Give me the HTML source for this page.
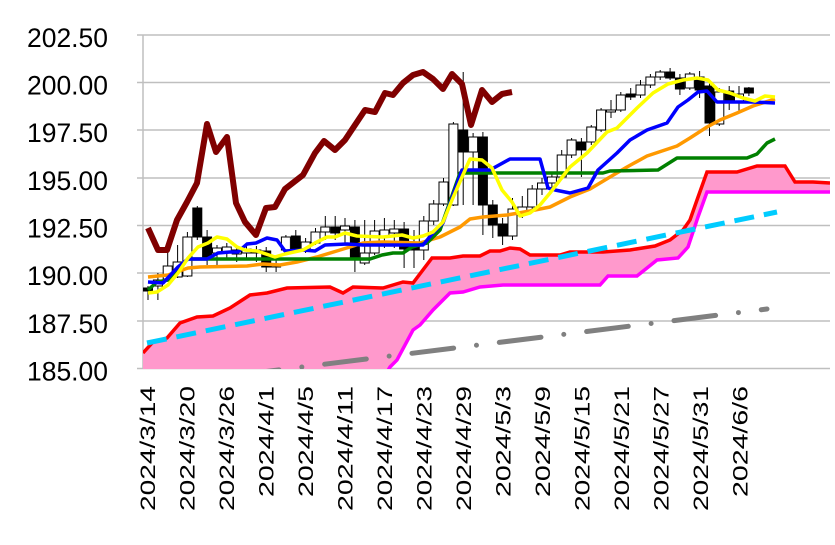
<!DOCTYPE html>
<html><head><meta charset="utf-8"><style>
html,body{margin:0;padding:0;background:#fff;}
svg{display:block;}
text{font-family:"Liberation Sans",sans-serif;fill:#000;}
</style></head><body>
<svg width="835" height="545" viewBox="0 0 835 545" xmlns="http://www.w3.org/2000/svg">
<defs><clipPath id="pc"><rect x="143" y="25" width="687" height="344"/></clipPath></defs>
<g stroke="#bfbfbf" stroke-width="1.5">
<line x1="137" y1="35" x2="830" y2="35"/>
<line x1="137" y1="82.5" x2="830" y2="82.5"/>
<line x1="137" y1="130" x2="830" y2="130"/>
<line x1="137" y1="178" x2="830" y2="178"/>
<line x1="137" y1="225.5" x2="830" y2="225.5"/>
<line x1="137" y1="273" x2="830" y2="273"/>
<line x1="137" y1="321" x2="830" y2="321"/>
<line x1="137" y1="368.5" x2="830" y2="368.5"/>
<line x1="143" y1="35" x2="143" y2="369"/>
</g>
<g font-size="27" text-anchor="end">
<text x="108" y="47" textLength="81" lengthAdjust="spacingAndGlyphs">202.50</text>
<text x="108" y="94.5" textLength="81" lengthAdjust="spacingAndGlyphs">200.00</text>
<text x="108" y="142" textLength="81" lengthAdjust="spacingAndGlyphs">197.50</text>
<text x="108" y="190" textLength="81" lengthAdjust="spacingAndGlyphs">195.00</text>
<text x="108" y="237.5" textLength="81" lengthAdjust="spacingAndGlyphs">192.50</text>
<text x="108" y="285" textLength="81" lengthAdjust="spacingAndGlyphs">190.00</text>
<text x="108" y="333" textLength="81" lengthAdjust="spacingAndGlyphs">187.50</text>
<text x="108" y="380.5" textLength="81" lengthAdjust="spacingAndGlyphs">185.00</text>
</g>
<g font-size="21" text-anchor="end">
<text transform="translate(155,386) rotate(-90)" textLength="125" lengthAdjust="spacingAndGlyphs">2024/3/14</text>
<text transform="translate(194.5,386) rotate(-90)" textLength="125" lengthAdjust="spacingAndGlyphs">2024/3/20</text>
<text transform="translate(234,386) rotate(-90)" textLength="125" lengthAdjust="spacingAndGlyphs">2024/3/26</text>
<text transform="translate(273.5,386) rotate(-90)" textLength="111" lengthAdjust="spacingAndGlyphs">2024/4/1</text>
<text transform="translate(313,386) rotate(-90)" textLength="111" lengthAdjust="spacingAndGlyphs">2024/4/5</text>
<text transform="translate(352.5,386) rotate(-90)" textLength="125" lengthAdjust="spacingAndGlyphs">2024/4/11</text>
<text transform="translate(392,386) rotate(-90)" textLength="125" lengthAdjust="spacingAndGlyphs">2024/4/17</text>
<text transform="translate(431.5,386) rotate(-90)" textLength="125" lengthAdjust="spacingAndGlyphs">2024/4/23</text>
<text transform="translate(471,386) rotate(-90)" textLength="125" lengthAdjust="spacingAndGlyphs">2024/4/29</text>
<text transform="translate(510.5,386) rotate(-90)" textLength="111" lengthAdjust="spacingAndGlyphs">2024/5/3</text>
<text transform="translate(550,386) rotate(-90)" textLength="111" lengthAdjust="spacingAndGlyphs">2024/5/9</text>
<text transform="translate(589.5,386) rotate(-90)" textLength="125" lengthAdjust="spacingAndGlyphs">2024/5/15</text>
<text transform="translate(629,386) rotate(-90)" textLength="125" lengthAdjust="spacingAndGlyphs">2024/5/21</text>
<text transform="translate(668.5,386) rotate(-90)" textLength="125" lengthAdjust="spacingAndGlyphs">2024/5/27</text>
<text transform="translate(708,386) rotate(-90)" textLength="125" lengthAdjust="spacingAndGlyphs">2024/5/31</text>
<text transform="translate(747.5,386) rotate(-90)" textLength="111" lengthAdjust="spacingAndGlyphs">2024/6/6</text>
</g>
<g clip-path="url(#pc)">
<polygon fill="#ff99cc" points="143,353 153,342 167,338 180,323 197,317 213,316 230,308 250,295 267,293 287,288 330,287 343,293 353,287 383,288 403,282 413,283 432,258 450,258 463,256 480,256 490,251 500,251 510,248 520,249 530,255 560,255 570,252 603,252 630,250 655,246 670,240 683,230 690,220 697,200 707,172 737,172 757,166 785,166 795,182 813,182 830,183 830,192 707,192 698,217 688,247 678,258 657,260 637,276 608,276 600,285 503,285 480,287 463,292 450,293 433,310 420,325 413,330 397,360 390,367 387,372 143,372"/>
<polyline fill="none" stroke="#ff00ff" stroke-width="3.5" points="143,372 387,372 390,367 397,360 413,330 420,325 433,310 450,293 463,292 480,287 503,285 600,285 608,276 637,276 657,260 678,258 688,247 698,217 707,192 830,192"/>
<polyline fill="none" stroke="#ff0000" stroke-width="3.5" points="143,353 153,342 167,338 180,323 197,317 213,316 230,308 250,295 267,293 287,288 330,287 343,293 353,287 383,288 403,282 413,283 432,258 450,258 463,256 480,256 490,251 500,251 510,248 520,249 530,255 560,255 570,252 603,252 630,250 655,246 670,240 683,230 690,220 697,200 707,172 737,172 757,166 785,166 795,182 813,182 830,183"/>
<line x1="147" y1="343" x2="777" y2="212" stroke="#00ccff" stroke-width="5" stroke-dasharray="20 10"/>
<line x1="150" y1="386" x2="767" y2="309" stroke="#808080" stroke-width="5" stroke-linecap="round" stroke-dasharray="42 23 0 23"/>
<g stroke="#000" stroke-width="1">
<line x1="148" y1="286" x2="148" y2="300"/><rect x="143.5" y="288" width="9" height="3" fill="#000"/>
<line x1="157.9" y1="273" x2="157.9" y2="300"/><rect x="153.4" y="280" width="9" height="6" fill="#fff"/>
<line x1="167.7" y1="250" x2="167.7" y2="281"/><rect x="163.2" y="266" width="9" height="13" fill="#fff"/>
<line x1="177.6" y1="245" x2="177.6" y2="278"/><rect x="173.1" y="262" width="9" height="15" fill="#fff"/>
<line x1="187.4" y1="232" x2="187.4" y2="277"/><rect x="182.9" y="237" width="9" height="39" fill="#fff"/>
<line x1="197.3" y1="206" x2="197.3" y2="240"/><rect x="192.8" y="208" width="9" height="29" fill="#000"/>
<line x1="207.1" y1="230" x2="207.1" y2="265"/><rect x="202.6" y="237" width="9" height="20" fill="#000"/>
<line x1="217" y1="245" x2="217" y2="265"/><rect x="212.5" y="248" width="9" height="5" fill="#fff"/>
<line x1="226.8" y1="243" x2="226.8" y2="260"/><rect x="222.3" y="247" width="9" height="5" fill="#fff"/>
<line x1="236.7" y1="245" x2="236.7" y2="262"/><rect x="232.2" y="250" width="9" height="4" fill="#fff"/>
<line x1="246.5" y1="244" x2="246.5" y2="260"/><rect x="242" y="249" width="9" height="4" fill="#fff"/>
<line x1="256.4" y1="246" x2="256.4" y2="262"/><rect x="251.9" y="250" width="9" height="3" fill="#fff"/>
<line x1="266.2" y1="247" x2="266.2" y2="272"/><rect x="261.7" y="251" width="9" height="16" fill="#000"/>
<line x1="276.1" y1="258" x2="276.1" y2="272"/><rect x="271.6" y="264" width="9" height="3" fill="#fff"/>
<line x1="285.9" y1="235" x2="285.9" y2="253"/><rect x="281.4" y="237" width="9" height="13" fill="#fff"/>
<line x1="295.8" y1="230" x2="295.8" y2="252"/><rect x="291.3" y="236" width="9" height="14" fill="#000"/>
<line x1="305.6" y1="238" x2="305.6" y2="253"/><rect x="301.1" y="242" width="9" height="8" fill="#fff"/>
<line x1="315.5" y1="228" x2="315.5" y2="245"/><rect x="311" y="232" width="9" height="11" fill="#fff"/>
<line x1="325.3" y1="216" x2="325.3" y2="240"/><rect x="320.8" y="227" width="9" height="5" fill="#fff"/>
<line x1="335.2" y1="216" x2="335.2" y2="240"/><rect x="330.7" y="227" width="9" height="6" fill="#000"/>
<line x1="345" y1="218" x2="345" y2="245"/><rect x="340.5" y="226" width="9" height="4" fill="#fff"/>
<line x1="354.9" y1="220" x2="354.9" y2="272"/><rect x="350.4" y="227" width="9" height="30" fill="#000"/>
<line x1="364.7" y1="220" x2="364.7" y2="265"/><rect x="360.2" y="253" width="9" height="10" fill="#fff"/>
<line x1="374.6" y1="220" x2="374.6" y2="255"/><rect x="370.1" y="231" width="9" height="22" fill="#fff"/>
<line x1="384.4" y1="218" x2="384.4" y2="248"/><rect x="379.9" y="230" width="9" height="7" fill="#fff"/>
<line x1="394.3" y1="220" x2="394.3" y2="248"/><rect x="389.8" y="229" width="9" height="4" fill="#fff"/>
<line x1="404.1" y1="222" x2="404.1" y2="268"/><rect x="399.6" y="229" width="9" height="20" fill="#000"/>
<line x1="414" y1="230" x2="414" y2="268"/><rect x="409.5" y="247" width="9" height="3" fill="#000"/>
<line x1="423.8" y1="216" x2="423.8" y2="260"/><rect x="419.3" y="221" width="9" height="29" fill="#fff"/>
<line x1="433.7" y1="200" x2="433.7" y2="225"/><rect x="429.2" y="204" width="9" height="17" fill="#fff"/>
<line x1="443.5" y1="178" x2="443.5" y2="206"/><rect x="439" y="182" width="9" height="22" fill="#fff"/>
<line x1="453.4" y1="122" x2="453.4" y2="206"/><rect x="448.9" y="124" width="9" height="81" fill="#fff"/>
<line x1="463.2" y1="72" x2="463.2" y2="205"/><rect x="458.7" y="130" width="9" height="22" fill="#000"/>
<line x1="473.1" y1="133" x2="473.1" y2="205"/><rect x="468.6" y="137" width="9" height="15" fill="#fff"/>
<line x1="482.9" y1="132" x2="482.9" y2="235"/><rect x="478.4" y="137" width="9" height="68" fill="#000"/>
<line x1="492.8" y1="200" x2="492.8" y2="238"/><rect x="488.3" y="205" width="9" height="20" fill="#000"/>
<line x1="502.6" y1="218" x2="502.6" y2="245"/><rect x="498.1" y="224" width="9" height="12" fill="#000"/>
<line x1="512.5" y1="198" x2="512.5" y2="240"/><rect x="508" y="209" width="9" height="27" fill="#fff"/>
<line x1="522.3" y1="196" x2="522.3" y2="218"/><rect x="517.8" y="207" width="9" height="6" fill="#fff"/>
<line x1="532.2" y1="185" x2="532.2" y2="210"/><rect x="527.7" y="189" width="9" height="18" fill="#fff"/>
<line x1="542" y1="178" x2="542" y2="195"/><rect x="537.5" y="183" width="9" height="6" fill="#fff"/>
<line x1="551.9" y1="172" x2="551.9" y2="190"/><rect x="547.4" y="177" width="9" height="6" fill="#fff"/>
<line x1="561.7" y1="150" x2="561.7" y2="180"/><rect x="557.2" y="155" width="9" height="22" fill="#fff"/>
<line x1="571.6" y1="138" x2="571.6" y2="158"/><rect x="567.1" y="140" width="9" height="15" fill="#fff"/>
<line x1="581.4" y1="138" x2="581.4" y2="177"/><rect x="576.9" y="142" width="9" height="8" fill="#000"/>
<line x1="591.3" y1="125" x2="591.3" y2="145"/><rect x="586.8" y="127" width="9" height="15" fill="#fff"/>
<line x1="601.1" y1="108" x2="601.1" y2="132"/><rect x="596.6" y="110" width="9" height="20" fill="#fff"/>
<line x1="611" y1="100" x2="611" y2="118"/><rect x="606.5" y="110" width="9" height="2" fill="#fff"/>
<line x1="620.8" y1="92" x2="620.8" y2="112"/><rect x="616.3" y="95" width="9" height="15" fill="#fff"/>
<line x1="630.7" y1="88" x2="630.7" y2="100"/><rect x="626.2" y="94" width="9" height="3" fill="#000"/>
<line x1="640.5" y1="80" x2="640.5" y2="98"/><rect x="636" y="85" width="9" height="10" fill="#fff"/>
<line x1="650.4" y1="74" x2="650.4" y2="88"/><rect x="645.9" y="77" width="9" height="8" fill="#fff"/>
<line x1="660.2" y1="70" x2="660.2" y2="80"/><rect x="655.7" y="72" width="9" height="5" fill="#fff"/>
<line x1="670.1" y1="68" x2="670.1" y2="80"/><rect x="665.6" y="72" width="9" height="6" fill="#000"/>
<line x1="679.9" y1="74" x2="679.9" y2="95"/><rect x="675.4" y="78" width="9" height="11" fill="#000"/>
<line x1="689.8" y1="72" x2="689.8" y2="90"/><rect x="685.3" y="74" width="9" height="14" fill="#fff"/>
<line x1="699.6" y1="71" x2="699.6" y2="98"/><rect x="695.1" y="77" width="9" height="13" fill="#000"/>
<line x1="709.5" y1="80" x2="709.5" y2="136"/><rect x="705" y="86" width="9" height="37" fill="#000"/>
<line x1="719.3" y1="88" x2="719.3" y2="126"/><rect x="714.8" y="92" width="9" height="32" fill="#fff"/>
<line x1="729.2" y1="86" x2="729.2" y2="110"/><rect x="724.7" y="91" width="9" height="11" fill="#000"/>
<line x1="739" y1="86" x2="739" y2="112"/><rect x="734.5" y="94" width="9" height="8" fill="#fff"/>
<line x1="748.9" y1="87" x2="748.9" y2="96"/><rect x="744.4" y="88" width="9" height="5" fill="#000"/>
</g>
<polyline fill="none" stroke="#ff9900" stroke-width="3.5" stroke-linejoin="round" points="148,277 168,275 188,268 200,267 247,266 263,264 280,265 297,262 317,257 340,250 363,243 383,242 420,243 440,237 460,227 470,219 483,217 507,215 530,211 550,207 570,197 590,189 610,177 627,167 647,156 677,146 690,138 707,127 720,120 737,113 753,106 775,99"/>
<polyline fill="none" stroke="#008000" stroke-width="3.5" stroke-linejoin="round" points="148,290 157,282 168,280 178,268 188,259 370,259 382,255 393,253 403,253 412,247 427,243 440,230 460,173 603,173 610,171 658,170 677,158 747,158 757,154 767,143 775,139"/>
<polyline fill="none" stroke="#0000ff" stroke-width="3.5" stroke-linejoin="round" points="148,282 163,283 178,267 188,259 207,259 218,253 230,252 238,252 247,244 256,243 267,238 277,240 285,251 303,250 315,251 325,245 347,244 363,245 423,245 433,233 443,223 462,170 490,170 510,159 540,159 548,188 555,190 570,193 588,188 598,170 617,153 630,140 647,130 667,123 678,107 688,100 698,92 707,91 717,102 730,102 753,102 775,103"/>
<polyline fill="none" stroke="#ffff00" stroke-width="3.5" stroke-linejoin="round" points="148,293 157,292 168,285 178,273 188,258 198,247 208,243 217,237 227,239 237,247 245,250 257,251 275,257 285,254 303,250 315,243 327,237 335,237 345,233 357,236 383,237 402,235 413,238 423,236 433,232 443,222 452,200 462,177 470,159 482,160 492,168 502,190 512,202 520,216 530,213 540,205 550,193 570,167 587,153 607,132 617,128 637,108 653,93 668,84 683,80 697,78 708,80 718,90 730,93 743,98 755,101 765,96 775,97"/>
<polyline fill="none" stroke="#800000" stroke-width="6" stroke-linejoin="round" points="148,228 158,250 167,250 177,220 187,202 197,183 207,124 216,152 227,137 236,203 245,222 256,235 266,208 275,207 285,189 303,175 315,153 324,141 335,150 345,140 365,110 375,112 385,93 393,95 403,83 413,75 423,72 433,79 443,89 452,74 462,84 471,125 482,90 492,102 502,94 512,92"/>
</g>
</svg>
</body></html>
